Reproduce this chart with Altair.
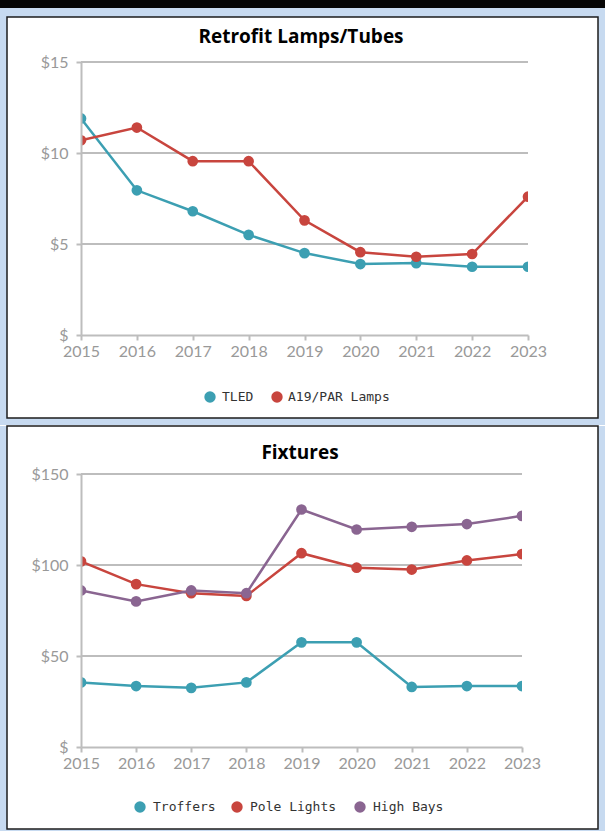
import altair as alt
import pandas as pd

# ---- data ----
years = [2015, 2016, 2017, 2018, 2019, 2020, 2021, 2022, 2023]
tled = [11.9, 7.95, 6.8, 5.5, 4.5, 3.9, 3.95, 3.75, 3.75]
a19_par = [10.7, 11.4, 9.55, 9.55, 6.3, 4.55, 4.3, 4.45, 7.6]
troffers = [35.5, 33.5, 32.5, 35.5, 57.5, 57.5, 33.0, 33.5, 33.5]
pole_lights = [102.0, 89.5, 84.5, 83.0, 106.5, 98.5, 97.5, 102.5, 106.0]
high_bays = [86.0, 80.0, 86.0, 84.5, 130.5, 119.5, 121.0, 122.5, 127.0]

top_title = "Retrofit Lamps/Tubes"
bottom_title = "Fixtures"
top_series = ["TLED", "A19/PAR Lamps"]
bottom_series = ["Troffers", "Pole Lights", "High Bays"]
top_ticks = [0, 5, 10, 15]
bottom_ticks = [0, 50, 100, 150]

TEAL = "#3c9fb2"
RED = "#c8453e"
PURPLE = "#8a6591"
GRID = "#bdbdbd"
BG = "#c7daf0"


def long_df(series_names, series_values):
    rows = []
    for name, vals in zip(series_names, series_values):
        for yr, v in zip(years, vals):
            rows.append({"year": yr, "value": v, "series": name})
    return pd.DataFrame(rows)


ONE = pd.DataFrame({"k": [0]})


def deco_rect(x1, x2, y1, y2, **kw):
    return alt.Chart(ONE).mark_rect(**kw).encode(
        x=alt.value(x1), x2=alt.value(x2), y=alt.value(y1), y2=alt.value(y2)
    )


def legend_layers(series, colors, symbol_xs, label_xs, y):
    out = []
    for name, col, sx, lx in zip(series, colors, symbol_xs, label_xs):
        out.append(
            alt.Chart(ONE).mark_circle(size=130, opacity=1, color=col).encode(
                x=alt.value(sx), y=alt.value(y)
            )
        )
        out.append(
            alt.Chart(pd.DataFrame({"label": [name]})).mark_text(
                font="DejaVu Sans Mono", fontSize=13, color="#333333",
                align="left", baseline="middle",
            ).encode(x=alt.value(lx), y=alt.value(y), text="label:N")
        )
    return out


def panel(df, series, colors, ticks, width, title, title_x, title_y,
          frame, legend):
    height = 273
    x_enc = alt.X(
        "year:O",
        scale=alt.Scale(type="point", padding=0),
        axis=alt.Axis(
            title=None, labelAngle=0, domainColor=GRID, domainWidth=2,
            tickColor=GRID, tickWidth=2, tickSize=5, labelPadding=3,
            labelColor="#999999", labelFont="Lato", labelFontSize=16,
            grid=False, zindex=1,
        ),
    )
    y_enc = alt.Y(
        "value:Q",
        scale=alt.Scale(domain=[ticks[0], ticks[-1]], nice=False),
        axis=alt.Axis(
            title=None, values=ticks,
            labelExpr="datum.value == 0 ? '$' : '$' + datum.value",
            domainColor=GRID, domainWidth=2, tickColor=GRID, tickWidth=2,
            tickSize=5, labelPadding=8, labelColor="#999999",
            labelFont="Lato", labelFontSize=16, grid=False, zindex=1,
        ),
    )
    layers = list(frame)
    grid_df = pd.DataFrame({"value": ticks[1:]})
    layers.append(
        alt.Chart(grid_df).mark_rule(color=GRID, strokeWidth=2).encode(y=y_enc)
    )
    cscale = alt.Scale(domain=series, range=colors)
    layers.append(
        alt.Chart(df).mark_line(strokeWidth=2.5, clip=True).encode(
            x=x_enc, y=y_enc,
            color=alt.Color("series:N", scale=cscale, legend=None),
        )
    )
    layers.append(
        alt.Chart(df).mark_circle(size=115, opacity=1, clip=True).encode(
            x=x_enc, y=y_enc,
            color=alt.Color("series:N", scale=cscale, legend=None),
        )
    )
    layers.extend(legend)
    layers.append(
        alt.Chart(pd.DataFrame({"t": [title]})).mark_text(
            font="Open Sans", fontWeight="bold", fontSize=19, color="#000000",
            align="center", baseline="middle",
        ).encode(x=alt.value(title_x), y=alt.value(title_y), text="t:N")
    )
    return alt.layer(*layers).properties(width=width, height=height)


top_frame = [
    deco_rect(-81, 524, -62, -54, fill="#050505"),
    deco_rect(-81, 524, -54, -45, fill=BG),
    deco_rect(-81, -74, -45, 363, fill=BG),
    deco_rect(517, 524, -45, 363, fill=BG),
    deco_rect(-81, 524, 356, 363, fill=BG),
    deco_rect(-74, 517, -45, 356, fillOpacity=0, stroke="#1c1c1c", strokeWidth=1.5),
]
bottom_frame = [
    deco_rect(-81, -74, -48, 358, fill=BG),
    deco_rect(517, 524, -48, 358, fill=BG),
    deco_rect(-81, 524, 355, 358, fill=BG),
    deco_rect(-74, 517, -48, 355, fillOpacity=0, stroke="#1c1c1c", strokeWidth=1.5),
]

top_legend = legend_layers(top_series, [TEAL, RED], [129, 196], [141, 207], 335)
bottom_legend = legend_layers(bottom_series, [TEAL, RED, PURPLE],
                              [59, 156, 279], [72, 169, 292], 333)

top_df = long_df(top_series, [tled, a19_par])
bottom_df = long_df(bottom_series, [troffers, pole_lights, high_bays])

top = panel(top_df, top_series, [TEAL, RED], top_ticks, 447, top_title,
            220, -25, top_frame, top_legend)
bottom = panel(bottom_df, bottom_series, [TEAL, RED, PURPLE], bottom_ticks, 441,
               bottom_title, 219, -21, bottom_frame, bottom_legend)

chart = alt.vconcat(top, bottom, spacing=0).resolve_scale(
    color="independent"
).configure(
    background="white",
    padding={"left": 0, "top": 0, "right": 0, "bottom": 0},
).configure_view(strokeWidth=0)

chart.save("out.html", embed_options={"renderer": "svg", "actions": False})
